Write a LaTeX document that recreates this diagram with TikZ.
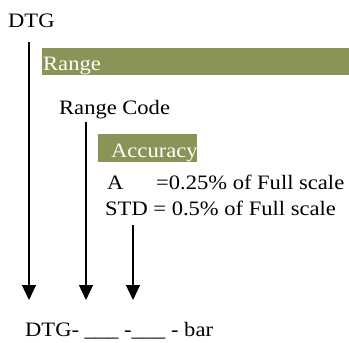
\documentclass[tikz,border=0pt]{standalone}
\usepackage{fontspec}
\setmainfont{Liberation Serif}[FakeStretch=1.1]
\usetikzlibrary{arrows.meta}
\definecolor{olive}{RGB}{138,148,86}
\tikzset{
  txt/.style={anchor=base west,inner sep=0pt,font=\fontsize{20.5}{24}\selectfont},
  band/.style={fill=olive,draw=none},
  arr/.style={line width=1.4pt,-{Triangle[width=14pt,length=15pt]}}
}
\begin{document}
\begin{tikzpicture}[x=1pt,y=-1pt]
\useasboundingbox (0,0) rectangle (349,343);
\node[txt] (dtg) at (8,27) {DTG};
\fill[band] (42,48) rectangle (349,75);
\node[txt,text=white] (range) at (43,70) {Range};
\node[txt] (rcode) at (59,114) {Range Code};
\fill[band] (98,134) rectangle (197,162);
\node[txt,text=white] (acc) at (111,157) {Accuracy};
\node[txt] (a) at (107,189) {A};
\node[txt] (aval) at (156,189) {=0.25\% of Full scale};
\node[txt] (std) at (105,215) {STD = 0.5\% of Full scale};
\node[txt] (code) at (25,336) {DTG- \_\_\_ -\_\_\_ - bar};
\coordinate (s1) at (29,42);
\coordinate (e1) at (29,300);
\coordinate (s2) at (86,122);
\coordinate (e2) at (86,300);
\coordinate (s3) at (133,225);
\coordinate (e3) at (133,300);
\draw[arr] (s1) -- (e1);
\draw[arr] (s2) -- (e2);
\draw[arr] (s3) -- (e3);
\end{tikzpicture}
\end{document}
